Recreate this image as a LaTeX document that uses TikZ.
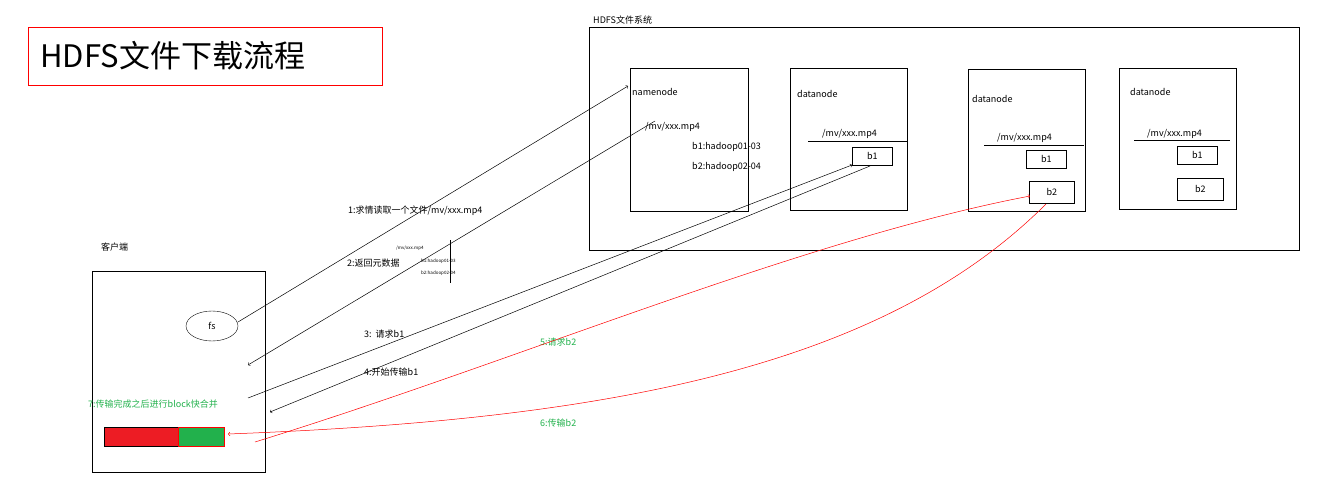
\documentclass[tikz,border=0pt]{standalone}
\usepackage{fontspec}
\usetikzlibrary{shapes.geometric}
\setmainfont{Noto Sans CJK SC}
\definecolor{gg}{RGB}{34,177,76}
\definecolor{rr}{RGB}{237,28,36}
\begin{document}
\begin{tikzpicture}[x=1pt,y=-1pt,
  box/.style={draw,line width=0.6pt},
  t/.style={font=\fontsize{9}{10}\selectfont,inner sep=0pt,anchor=west},
  g/.style={t,text=gg},
  a/.style={->,line width=0.5pt},
  ra/.style={->,line width=0.5pt,red}]
\useasboundingbox (0,0) rectangle (1338,500);
\node[draw=red,minimum width=354,minimum height=58,anchor=north west] (title) at (28,27) {};
\node[font=\fontsize{31}{32}\selectfont,inner sep=0pt,anchor=west] at (40,56) {HDFS文件下载流程};
\node[box,minimum width=710,minimum height=223,anchor=north west] (hdfs) at (589,27) {};
\node[t] at (593,20) {HDFS文件系统};
\node[box,minimum width=118,minimum height=143,anchor=north west] (nn) at (630,68) {};
\node[t] at (632,92) {namenode};
\node[t] at (645,127) {/mv/xxx.mp4};
\node[t] at (692,147) {b1:hadoop01-03};
\node[t] at (692,167) {b2:hadoop02-04};
\node[box,minimum width=117,minimum height=142,anchor=north west] (d1) at (790,68) {};
\node[t] at (797,94) {datanode};
\node[t] at (822,134) {/mv/xxx.mp4};
\draw (808,141) -- (908,141);
\node[box,minimum width=40,minimum height=18,anchor=north west,font=\fontsize{9}{10}\selectfont] (b11) at (852,147) {b1};
\node[box,minimum width=117,minimum height=142,anchor=north west] (d2) at (968,69) {};
\node[t] at (972,99) {datanode};
\node[t] at (997,138) {/mv/xxx.mp4};
\draw (984,145) -- (1084,145);
\node[box,minimum width=40,minimum height=18,anchor=north west,font=\fontsize{9}{10}\selectfont] (b12) at (1026,150) {b1};
\node[box,minimum width=45,minimum height=22,anchor=north west,font=\fontsize{9}{10}\selectfont] (b22) at (1029,181) {b2};
\node[box,minimum width=117,minimum height=141,anchor=north west] (d3) at (1119,68) {};
\node[t] at (1130,92) {datanode};
\node[t] at (1147,134) {/mv/xxx.mp4};
\draw (1134,140) -- (1230,140);
\node[box,minimum width=40,minimum height=18,anchor=north west,font=\fontsize{9}{10}\selectfont] (b13) at (1177,146) {b1};
\node[box,minimum width=46,minimum height=22,anchor=north west,font=\fontsize{9}{10}\selectfont] (b23) at (1177,178) {b2};
\node[t] at (101,247) {客户端};
\node[box,minimum width=173,minimum height=201,anchor=north west] (cl) at (92,271) {};
\node[draw,ellipse,minimum width=52,minimum height=30,font=\fontsize{9}{10}\selectfont] (fs) at (212,326) {fs};
\node[draw,fill=rr,minimum width=74,minimum height=19,anchor=north west,inner sep=0pt] (r) at (104,427) {};
\node[draw,fill=gg,minimum width=46,minimum height=19,anchor=north west,inner sep=0pt] (gr) at (178,427) {};
\draw[red,line width=0.8pt] (gr.north east) rectangle (gr.south west);
\node[font=\fontsize{4.5}{5}\selectfont,inner sep=0pt,anchor=west] (meta) at (396,248) {/mv/xxx.mp4};
\node[font=\fontsize{4.5}{5}\selectfont,inner sep=0pt,anchor=west] at (421,261) {b1:hadoop01-03};
\node[font=\fontsize{4.5}{5}\selectfont,inner sep=0pt,anchor=west] at (421,273) {b2:hadoop02-04};
\draw (450,240) -- (450,283);
\node[t] at (348,211) {1:求情读取一个文件/mv/xxx.mp4};
\node[t] at (347,263) {2:返回元数据};
\node[t] at (364,334) {3:\ \ 请求b1};
\node[t] at (364,372) {4:开始传输b1};
\node[g] at (540,342) {5:请求b2};
\node[g] at (540,423) {6:传输b2};
\node[g] (s7) at (88,404) {7:传输完成之后进行block快合并};
\coordinate (c1) at (238,322); \coordinate (e1) at (628,86);
\coordinate (c2) at (655,121); \coordinate (e2) at (248,365);
\coordinate (c3) at (248,398); \coordinate (e3) at (852,165);
\coordinate (c4) at (870,166); \coordinate (e4) at (270,412);
\coordinate (c5) at (255,442); \coordinate (e5) at (1030,196);
\coordinate (c6) at (1046,204); \coordinate (e6) at (228,434);
\draw[a] (c1) -- (e1);
\draw[a] (c2) -- (e2);
\draw[a] (c3) -- (e3);
\draw[a] (c4) -- (e4);
\draw[ra] (c5) .. controls (520,360) and (800,240) .. (e5);
\draw[ra] (c6) .. controls (880,370) and (600,420) .. (e6);
\end{tikzpicture}
\end{document}
